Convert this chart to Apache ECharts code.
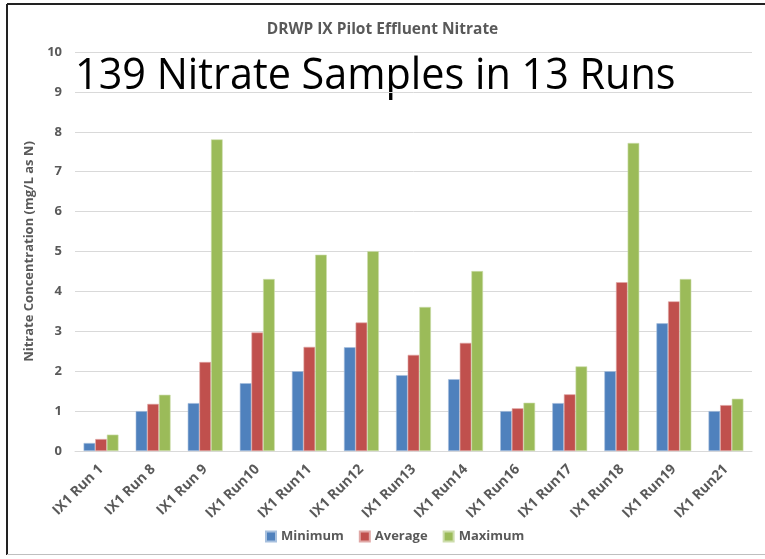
<!DOCTYPE html>
<html><head><meta charset="utf-8">
<script src="https://cdn.jsdelivr.net/npm/echarts@6/dist/echarts.min.js"></script>
<style>html,body{margin:0;padding:0;background:#fff}#c{width:765px;height:559px}</style>
</head><body><div id="c"></div>
<script>
const categories = ['IX1 Run 1','IX1 Run 8','IX1 Run 9','IX1 Run10','IX1 Run11','IX1 Run12','IX1 Run13','IX1 Run14','IX1 Run16','IX1 Run17','IX1 Run18','IX1 Run19','IX1 Run21'];
const minimum = [0.2, 1.0, 1.2, 1.7, 2.0, 2.6, 1.9, 1.8, 1.0, 1.2, 2.0, 3.2, 1.0];
const average = [0.3, 1.18, 2.23, 2.97, 2.61, 3.22, 2.41, 2.71, 1.07, 1.42, 4.23, 3.75, 1.15];
const maximum = [0.41, 1.41, 7.81, 4.31, 4.92, 5.01, 3.61, 4.51, 1.21, 2.12, 7.72, 4.31, 1.31];
const seriesNames = ['Minimum','Average','Maximum'];
const colors = ['#4F81BD','#C0504D','#9BBB59'];
const borders = ['#A7C0DE','#E0A8A6','#CDDDAC'];

const chart = echarts.init(document.getElementById('c'));
const mk = (name, data, i) => ({
  name, type: 'bar', data, barGap: '0%', barCategoryGap: '33%',
  itemStyle: { color: colors[i], borderColor: borders[i], borderWidth: 0.6 }
});
chart.setOption({
  animation: false,
  backgroundColor: '#fff',
  title: {
    text: 'DRWP IX Pilot Effluent Nitrate', left: 'center', top: 17,
    textStyle: { fontFamily: 'Open Sans', fontWeight: 'bold', fontSize: 15.5, color: '#595959' }
  },
  graphic: [
    { type: 'line', shape: { x1: 7, y1: 4, x2: 765, y2: 4 }, style: { stroke: '#222', lineWidth: 2 } },
    { type: 'line', shape: { x1: 7, y1: 4, x2: 7, y2: 555 }, style: { stroke: '#222', lineWidth: 2 } },
    { type: 'line', shape: { x1: 7, y1: 554.5, x2: 765, y2: 554.5 }, style: { stroke: '#BFBFBF', lineWidth: 1 } },
    { type: 'text', x: 75, y: 54, scaleX: 0.94, style: { text: '139 Nitrate Samples in 13 Runs', fontFamily: 'Open Sans', fontSize: 44, fill: '#000' } }
  ],
  legend: {
    data: seriesNames, bottom: 11, left: 260, itemWidth: 10, itemHeight: 10, itemGap: 15,
    icon: 'rect',
    textStyle: { fontFamily: 'Open Sans', fontWeight: 'bold', fontSize: 13, color: '#595959' }
  },
  grid: { left: 75, right: 13, top: 52, bottom: 108 },
  xAxis: {
    type: 'category', data: categories,
    axisLine: { lineStyle: { color: '#D9D9D9', width: 1 } },
    axisTick: { show: false },
    axisLabel: { rotate: 45, interval: 0, margin: 16, fontFamily: 'Open Sans', fontWeight: 'bold', fontSize: 14, color: '#595959' }
  },
  yAxis: {
    type: 'value', min: 0, max: 10, interval: 1,
    name: 'Nitrate Concentration (mg/L as N)', nameLocation: 'middle', nameGap: 35, nameRotate: 90,
    nameTextStyle: { fontFamily: 'Open Sans', fontWeight: 'bold', fontSize: 13, color: '#595959' },
    axisLabel: { margin: 13, fontFamily: 'Open Sans', fontWeight: 'bold', fontSize: 13, color: '#595959' },
    splitLine: { lineStyle: { color: '#D9D9D9', width: 1 } },
    axisLine: { show: false }, axisTick: { show: false }
  },
  series: [mk(seriesNames[0], minimum, 0), mk(seriesNames[1], average, 1), mk(seriesNames[2], maximum, 2)]
});
</script></body></html>
